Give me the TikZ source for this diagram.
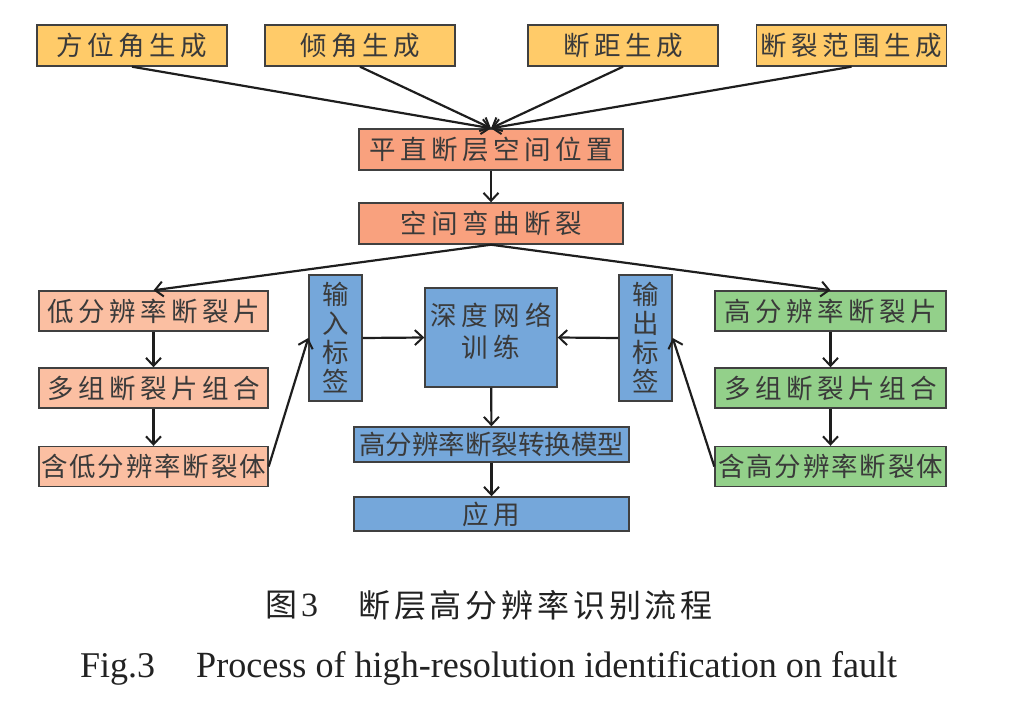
\documentclass[tikz,border=0pt]{standalone}
\usepackage{fontspec}
\usepackage{graphicx}
\setmainfont{Liberation Serif}
\newfontfamily\cjk{Noto Sans CJK SC}
\usetikzlibrary{arrows.meta}
\definecolor{cyel}{HTML}{FFCB69}
\definecolor{csal}{HTML}{F9A17E}
\definecolor{clsal}{HTML}{FBBFA2}
\definecolor{cgrn}{HTML}{93D08A}
\definecolor{cblu}{HTML}{75A7DA}
\definecolor{cbord}{HTML}{404040}
\definecolor{ctext}{HTML}{3A3A3A}
\definecolor{carr}{HTML}{1E1E1E}
\definecolor{ccap}{HTML}{222222}
\tikzset{
  box/.style={draw=cbord, line width=1.4pt, inner sep=0pt, text=ctext,
    font=\cjk\fontsize{26.5}{29}\selectfont\addfontfeature{LetterSpace=17}},
  tight/.style={font=\cjk\fontsize{26.5}{29}\selectfont\addfontfeature{LetterSpace=7}},
  vtight/.style={font=\cjk\fontsize{26.5}{29}\selectfont},
  yb/.style={box, fill=cyel, minimum width=190, minimum height=41},
  sb/.style={box, fill=csal, minimum width=264, minimum height=41},
  lb/.style={box, fill=clsal, minimum width=229, minimum height=40},
  gb/.style={box, fill=cgrn, minimum width=231, minimum height=40},
  bb/.style={box, fill=cblu},
  arr/.style={line width=2.2pt, draw=carr, -{Straight Barb[length=8pt,width=15pt,line width=2pt]}}
}
\begin{document}
\begin{tikzpicture}[x=1pt,y=-1pt]
\useasboundingbox (0,0) rectangle (1023,706);
% top row
\node[yb] (fa) at (132,45.5) {方位角生成};
\node[yb] (qj) at (360,45.5) {倾角生成};
\node[yb] (dj) at (623,45.5) {断距生成};
\node[yb] (fw) at (851.5,45.5) {断裂范围生成};
\node[sb] (pz) at (491,149.5) {平直断层空间位置};
\node[sb] (wq) at (491,223.5) {空间弯曲断裂};
% left column
\node[lb] (l1) at (153.5,311) {低分辨率断裂片};
\node[lb] (l2) at (153.5,388) {多组断裂片组合};
\node[lb, tight] (l3) at (153.5,466.5) {含低分辨率断裂体};
% right column
\node[gb] (h1) at (830.5,311) {高分辨率断裂片};
\node[gb] (h2) at (830.5,388) {多组断裂片组合};
\node[gb, tight] (h3) at (830.5,466.5) {含高分辨率断裂体};
% middle
\node[bb, minimum width=53, minimum height=126, align=center,
  font=\cjk\fontsize{26.5}{29}\selectfont] (in) at (335.5,338) {输\\入\\标\\签};
\node[bb, minimum width=53, minimum height=126, align=center,
  font=\cjk\fontsize{26.5}{29}\selectfont] (out) at (645.5,338) {输\\出\\标\\签};
\node[bb, minimum width=132, minimum height=99] (dp) at (491,337.5) {};
\node[align=center, inner sep=0pt, text=ctext,
  font=\cjk\fontsize{26.5}{32}\selectfont\addfontfeature{LetterSpace=20}] (dpt) at (491,331) {深度网络\\训练};
\node[bb, vtight, minimum width=275, minimum height=35] (md) at (491.5,444.5) {高分辨率断裂转换模型};
\node[bb, minimum width=275, minimum height=34] (ap) at (491.5,514) {应用};
% arrows
\draw[arr] (fa.south) -- (pz.north);
\draw[arr] (qj.south) -- (pz.north);
\draw[arr] (dj.south) -- (pz.north);
\draw[arr] (fw.south) -- (pz.north);
\draw[arr] (pz) -- (wq);
\draw[arr] (wq.south) -- (l1.north);
\draw[arr] (wq.south) -- (h1.north);
\draw[arr] (l1) -- (l2);
\draw[arr] (l2) -- (l3);
\draw[arr] (h1) -- (h2);
\draw[arr] (h2) -- (h3);
\draw[arr] (l3.east) -- (in.west);
\draw[arr] (h3.west) -- (out.east);
\draw[arr] (in.east) -- (dp.west);
\draw[arr] (out.west) -- (dp.east);
\draw[arr] (dp) -- (md);
\draw[arr] (md) -- (ap);
% captions
\node[anchor=west, inner sep=0pt, text=ccap, font=\cjk\fontsize{32}{34}\selectfont] (c1) at (265,605) {图\hspace{4pt}{\rmfamily\fontsize{34}{36}\selectfont 3}};
\node[anchor=west, inner sep=0pt, text=ccap, font=\cjk\fontsize{32}{34}\selectfont\addfontfeature{LetterSpace=12}] (c2) at (358,605) {断层高分辨率识别流程};
\node[anchor=base west, inner sep=0pt, text=ccap] (e1) at (80,677) {\resizebox{75pt}{24pt}{Fig.3}};
\node[anchor=base west, inner sep=0pt, text=ccap] (e2) at (196,677) {\resizebox{701pt}{26pt}{Process of high-resolution identification on fault}};
\end{tikzpicture}
\end{document}
